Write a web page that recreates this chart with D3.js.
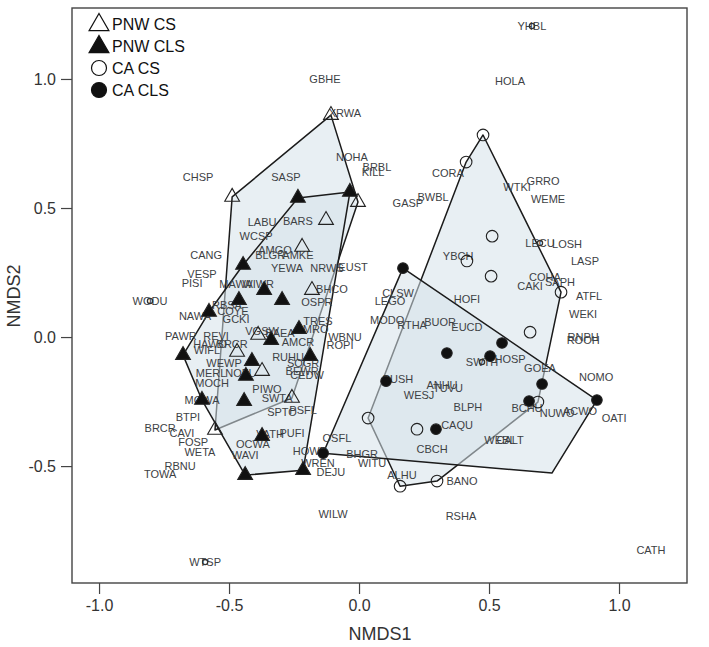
<!DOCTYPE html>
<html><head><meta charset="utf-8">
<script src="https://cdn.jsdelivr.net/npm/d3@7"></script>
<style>body{margin:0;background:#fff}svg{display:block}</style>
</head><body><svg id="c" width="709" height="647"></svg>
<script>
// ---- data (NMDS scores) ----
const xTicks = [-1.0, -0.5, 0.0, 0.5, 1.0];
const yTicks = [-0.5, 0.0, 0.5, 1.0];
const legendLabels = ["PNW CS", "PNW CLS", "CA CS", "CA CLS"];

const pnwCS = [[-0.108,0.860],[-0.488,0.543],[-0.004,0.523],[-0.127,0.453],[-0.219,0.349],[-0.181,0.182],
  [-0.388,0.008],[-0.469,-0.058],[-0.373,-0.132],[-0.258,-0.236],[-0.554,-0.360]];
const pnwCLS = [[-0.235,0.539],[-0.035,0.562],[-0.446,0.279],[-0.365,0.182],[-0.296,0.143],[-0.462,0.143],
  [-0.577,0.097],[-0.231,0.031],[-0.338,-0.012],[-0.188,-0.074],[-0.412,-0.093],[-0.435,-0.151],
  [-0.677,-0.070],[-0.604,-0.244],[-0.442,-0.248],[-0.373,-0.384],[-0.215,-0.516],[-0.438,-0.535]];
const caCS = [[0.477,0.783],[0.412,0.678],[0.512,0.391],[0.415,0.295],[0.508,0.236],[0.777,0.174],
  [0.658,0.019],[0.688,-0.252],[0.035,-0.314],[0.223,-0.357],[0.158,-0.578],[0.300,-0.558]];
const caCLS = [[0.169,0.267],[0.550,-0.023],[0.338,-0.062],[0.504,-0.074],[0.104,-0.171],[0.704,-0.182],
  [0.654,-0.248],[0.915,-0.244],[0.296,-0.357],[-0.138,-0.450]];
const caCLSHullExtra = [[0.742,-0.527]];

const speciesNames = ["GBHE","XRWA","NOHA","BRBL","KILL","SASP","CHSP","YHBL","HOLA","CORA","GRRO","WTKI","WEME",
 "BWBL","GASP","LECU","LOSH","LASP","YBCH","COHA","CAKI","SAPH","ATFL","HOFI","CLSW","LEGO","WEKI","MODO","RTHA",
 "BUOR","EUCD","RNPH","ROOH","SWTH","HOSP","GOEA","NOMO","BUSH","ANHU","TUVU","WESJ","BLPH","BCHU","NUWO","ACWO",
 "OATI","CAQU","WEBL","CALT","CBCH","OSFL","BHGR","WITU","ALHU","BANO","DEJU","WREN","HOWR","WILW","RSHA","CATH",
 "WTSP","TOWA","RBNU","WETA","FOSP","CAVI","BRCR","BTPI","MGWA","WAVI","OCWA","VATH","PUFI","SPTO","PSFL","SWTA",
 "PIWO","MOCH","MERL","NOFL","WEWP","RUHU","SOGR","BEWR","CEDW","AMCR","WBNU","ROPI","AMRO","TRES","VGSW","BAEA",
 "PAWR","REVI","HAWO","BRCR","WIFL","RBSA","COYE","GCKI","NAWA","MAWA","WIWR","VESP","PISI","WODU","CANG","YEWA",
 "NRWS","EUST","BHCO","OSPR","AMGO","BLGR","AMKE","LABU","BARS","WCSP"];
const speciesX = [-0.131,-0.054,-0.027,0.069,0.054,-0.281,-0.619,0.665,0.581,0.342,0.708,0.608,0.727,
 0.285,0.188,0.696,0.800,0.869,0.381,0.715,0.658,0.773,0.885,0.415,0.150,0.119,0.862,0.108,0.204,
 0.312,0.415,0.862,0.862,0.473,0.581,0.696,0.912,0.150,0.319,0.342,0.231,0.419,0.646,0.762,0.850,
 0.981,0.377,0.542,0.581,0.281,-0.085,0.012,0.050,0.165,0.396,-0.108,-0.158,-0.188,-0.100,0.392,1.123,
 -0.592,-0.765,-0.688,-0.612,-0.638,-0.681,-0.765,-0.658,-0.604,-0.438,-0.408,-0.342,-0.258,-0.296,-0.215,-0.315,
 -0.354,-0.565,-0.569,-0.458,-0.519,-0.273,-0.215,-0.219,-0.200,-0.235,-0.054,-0.073,-0.181,-0.158,-0.373,-0.304,
 -0.685,-0.550,-0.573,-0.488,-0.585,-0.508,-0.485,-0.473,-0.631,-0.473,-0.388,-0.604,-0.642,-0.804,-0.588,-0.277,
 -0.123,-0.023,-0.104,-0.162,-0.323,-0.342,-0.235,-0.373,-0.235,-0.396];
const speciesY = [1.000,0.868,0.698,0.659,0.640,0.620,0.620,1.205,0.992,0.636,0.605,0.581,0.535,
 0.543,0.519,0.364,0.360,0.295,0.314,0.233,0.198,0.213,0.159,0.147,0.171,0.140,0.089,0.066,0.047,
 0.058,0.039,0.000,-0.012,-0.097,-0.085,-0.120,-0.155,-0.163,-0.186,-0.198,-0.225,-0.271,-0.275,-0.295,-0.287,
 -0.314,-0.341,-0.399,-0.399,-0.434,-0.391,-0.453,-0.488,-0.535,-0.558,-0.523,-0.488,-0.442,-0.686,-0.694,-0.826,
 -0.872,-0.531,-0.500,-0.446,-0.407,-0.372,-0.353,-0.310,-0.244,-0.457,-0.415,-0.376,-0.372,-0.291,-0.283,-0.236,
 -0.202,-0.178,-0.140,-0.140,-0.101,-0.078,-0.101,-0.132,-0.147,-0.019,0.000,-0.031,0.031,0.062,0.023,0.016,
 0.004,0.004,-0.027,-0.027,-0.050,0.124,0.101,0.070,0.081,0.205,0.205,0.244,0.209,0.140,0.318,0.267,
 0.267,0.271,0.186,0.136,0.337,0.318,0.318,0.446,0.450,0.391];
const markedSpecies = ["YHBL","LECU","SWTH","WODU","WTSP"];

// ---- drawing ----
const svg = d3.select("#c");
const x = d3.scaleLinear().domain([-1.104, 1.2615]).range([72, 687]);
const y = d3.scaleLinear().domain([-0.953, 1.275]).range([583, 8]);

const hullFill = "rgb(214,226,233)";
const groups = [pnwCS, pnwCLS, caCS, caCLS.concat(caCLSHullExtra)];
groups.forEach(g => {
  const hull = d3.polygonHull(g.map(d => [x(d[0]), y(d[1])]));
  svg.append("path")
    .attr("d", "M" + hull.join("L") + "Z")
    .attr("fill", hullFill).attr("fill-opacity", 0.55)
    .attr("stroke", "#1b1b1b").attr("stroke-width", 1.5).attr("stroke-linejoin", "round");
});

// species labels
const labels = speciesNames.map((n, i) => ({n, x: speciesX[i], y: speciesY[i]}));
svg.append("g").selectAll("text").data(labels).join("text")
  .attr("x", d => x(d.x)).attr("y", d => y(d.y))
  .attr("text-anchor", "middle").attr("dominant-baseline", "central")
  .attr("font-family", "Liberation Sans, Arial, sans-serif").attr("font-size", 11)
  .attr("fill", "#3d4144").text(d => d.n);
svg.append("g").selectAll("circle").data(labels.filter(d => markedSpecies.includes(d.n))).join("circle")
  .attr("cx", d => x(d.x)).attr("cy", d => y(d.y)).attr("r", 2.6)
  .attr("fill", "none").attr("stroke", "#333").attr("stroke-width", 1.3);

// site markers
const tri = d3.symbol().type(d3.symbolTriangle);
function drawTri(data, filled, size) {
  svg.append("g").selectAll("path").data(data).join("path")
    .attr("transform", d => `translate(${x(d[0])},${y(d[1])})`)
    .attr("d", tri.size(size)())
    .attr("fill", filled ? "#111" : "none").attr("stroke", "#222").attr("stroke-width", 1.1);
}
function drawCirc(data, filled) {
  svg.append("g").selectAll("circle").data(data).join("circle")
    .attr("cx", d => x(d[0])).attr("cy", d => y(d[1])).attr("r", filled ? 5.3 : 5.8)
    .attr("fill", filled ? "#111" : "none").attr("stroke", "#222").attr("stroke-width", 1.1);
}
drawTri(pnwCS, false, 95);
drawTri(pnwCLS, true, 95);
drawCirc(caCS, false);
drawCirc(caCLS, true);

// frame
svg.append("rect").attr("x", 72).attr("y", 8).attr("width", 615).attr("height", 575)
  .attr("fill", "none").attr("stroke", "#444").attr("stroke-width", 1.4);

// axes
const fmt = d => d.toFixed(1);
const gx = svg.append("g").attr("transform", "translate(0,583)")
  .call(d3.axisBottom(x).tickValues(xTicks).tickFormat(fmt).tickSize(11).tickPadding(6));
const gy = svg.append("g").attr("transform", "translate(72,0)")
  .call(d3.axisLeft(y).tickValues(yTicks).tickFormat(fmt).tickSize(11).tickPadding(5));
[gx, gy].forEach(g => {
  g.select(".domain").remove();
  g.selectAll("line").attr("stroke", "#444").attr("stroke-width", 1.2);
  g.selectAll("text").attr("font-family", "Liberation Sans, Arial, sans-serif")
    .attr("font-size", 16).attr("fill", "#333");
});
svg.append("text").attr("x", 380).attr("y", 640).attr("text-anchor", "middle")
  .attr("font-family", "Liberation Sans, Arial, sans-serif").attr("font-size", 18).attr("fill", "#333").text("NMDS1");
svg.append("text").attr("transform", "translate(20,296) rotate(-90)").attr("text-anchor", "middle")
  .attr("font-family", "Liberation Sans, Arial, sans-serif").attr("font-size", 18).attr("fill", "#333").text("NMDS2");

// legend
const lg = svg.append("g");
legendLabels.forEach((lab, i) => {
  const cy = 24 + i * 22;
  if (i < 2) {
    lg.append("path").attr("transform", `translate(99,${cy + 1})`).attr("d", tri.size(170)())
      .attr("fill", i === 1 ? "#111" : "none").attr("stroke", "#111").attr("stroke-width", 1.2);
  } else {
    lg.append("circle").attr("cx", 99).attr("cy", cy).attr("r", 7.5)
      .attr("fill", i === 3 ? "#111" : "none").attr("stroke", "#111").attr("stroke-width", 1.2);
  }
  lg.append("text").attr("x", 112).attr("y", cy).attr("dominant-baseline", "central")
    .attr("font-family", "Liberation Sans, Arial, sans-serif").attr("font-size", 16).attr("fill", "#111").text(lab);
});
</script></body></html>
